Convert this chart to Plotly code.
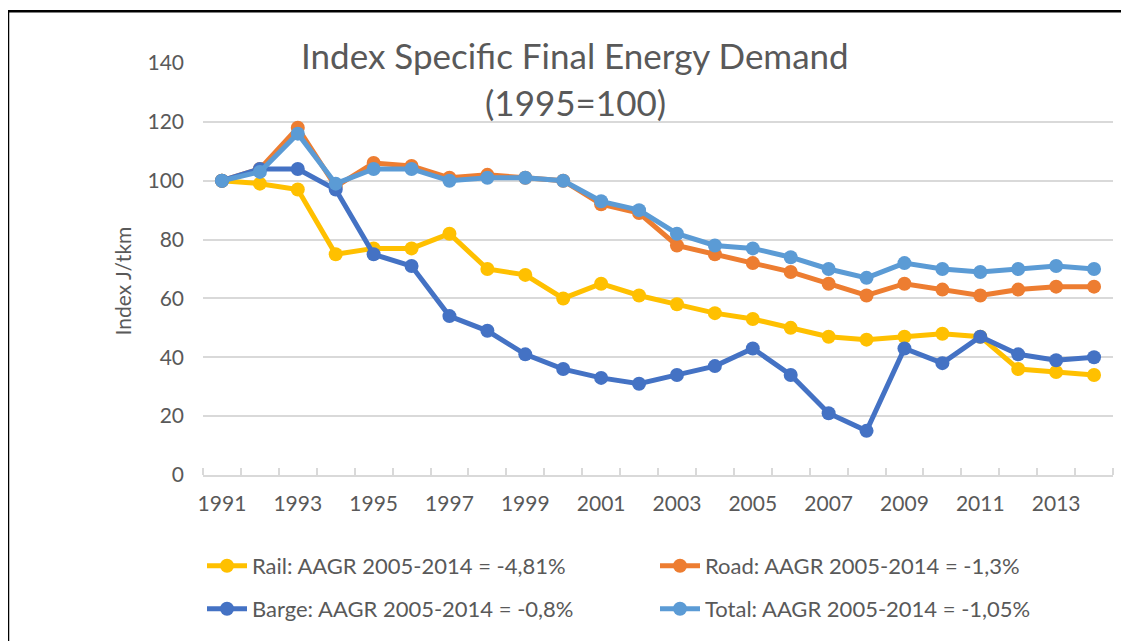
import plotly.graph_objects as go

years = list(range(1991, 2015))

rail = [100, 99, 97, 75, 77, 77, 82, 70, 68, 60, 65, 61, 58, 55, 53, 50, 47, 46, 47, 48, 47, 36, 35, 34]
road = [100, 104, 118, 98, 106, 105, 101, 102, 101, 100, 92, 89, 78, 75, 72, 69, 65, 61, 65, 63, 61, 63, 64, 64]
barge = [100, 104, 104, 97, 75, 71, 54, 49, 41, 36, 33, 31, 34, 37, 43, 34, 21, 15, 43, 38, 47, 41, 39, 40]
total = [100, 103, 116, 99, 104, 104, 100, 101, 101, 100, 93, 90, 82, 78, 77, 74, 70, 67, 72, 70, 69, 70, 71, 70]

names = [
    "Rail: AAGR 2005-2014 = -4,81%",
    "Road: AAGR 2005-2014 = -1,3%",
    "Barge: AAGR 2005-2014 = -0,8%",
    "Total: AAGR 2005-2014 = -1,05%",
]
colors = ["#FFC000", "#ED7D31", "#4472C4", "#5B9BD5"]
legends = ["legend", "legend", "legend2", "legend2"]

FONT = "Lato"
GREY = "#595959"

# the page puts the figure 8px in from the corner, so the figure is 8px smaller
OFF = 8
W, H = 1129 - OFF, 641 - OFF
# plot area on screen: x 203..1113, y 63..476
L, R, T, B = 203 - OFF, 16, 63 - OFF, 641 - 476
pw, ph = W - L - R, H - T - B

def px_x(x):
    return (x - OFF - L) / pw

def px_y(y):
    return (H - B - (y - OFF)) / ph

fig = go.Figure()
for vals, name, col, lg in zip([rail, road, barge, total], names, colors, legends):
    fig.add_trace(go.Scatter(
        x=years, y=vals, name=name, mode="lines+markers",
        line=dict(color=col, width=5),
        marker=dict(color=col, size=14),
        legend=lg,
    ))

legend_style = dict(
    orientation="h", xanchor="left", yanchor="middle",
    font=dict(family=FONT, size=22, color=GREY),
    itemwidth=40,
    entrywidth=398, entrywidthmode="pixels",
    bgcolor="rgba(0,0,0,0)",
)

fig.update_layout(
    width=W, height=H,
    margin=dict(l=L, r=R, t=T, b=B),
    paper_bgcolor="white", plot_bgcolor="white",
    font=dict(family=FONT, color=GREY),
    legend=dict(x=px_x(202), y=px_y(566), **legend_style),
    legend2=dict(x=px_x(202), y=px_y(609), **legend_style),
    xaxis=dict(
        range=[1990.5, 2014.5],
        tickvals=list(range(1991, 2014, 2)),
        ticks="", showgrid=False,
        showline=True, linecolor="#d9d9d9", linewidth=1.5,
        tickfont=dict(family=FONT, size=21, color=GREY),
        ticklabelstandoff=9,
        minor=dict(ticks="inside", tick0=1990.5, dtick=1, ticklen=7,
                   tickcolor="#d9d9d9", tickwidth=1.5, showgrid=False),
        zeroline=False,
    ),
    yaxis=dict(
        range=[0, 140], dtick=20,
        showgrid=True, gridcolor="#d9d9d9", gridwidth=1.5,
        zeroline=False, showline=False, ticks="",
        tickfont=dict(family=FONT, size=21, color=GREY),
        ticklabelstandoff=18,
    ),
    annotations=[
        dict(text="Index Specific Final Energy Demand", x=px_x(575), y=px_y(55),
             xref="paper", yref="paper", showarrow=False,
             xanchor="center", yanchor="middle",
             font=dict(family=FONT, size=35, color=GREY)),
        dict(text="(1995=100)", x=px_x(575), y=px_y(102),
             xref="paper", yref="paper", showarrow=False,
             xanchor="center", yanchor="middle",
             font=dict(family=FONT, size=35, color=GREY)),
        dict(text="Index J/tkm", x=px_x(122), y=px_y(282), textangle=-90,
             xref="paper", yref="paper", showarrow=False,
             xanchor="center", yanchor="middle",
             font=dict(family=FONT, size=21, color=GREY)),
    ],
    shapes=[
        dict(type="line", xref="paper", yref="paper",
             x0=px_x(8), y0=px_y(11), x1=px_x(1140), y1=px_y(11),
             line=dict(color="black", width=2.5)),
        dict(type="line", xref="paper", yref="paper",
             x0=px_x(8), y0=px_y(11), x1=px_x(8), y1=px_y(660),
             line=dict(color="black", width=2.5)),
    ],
)

fig.write_html("out.html")
